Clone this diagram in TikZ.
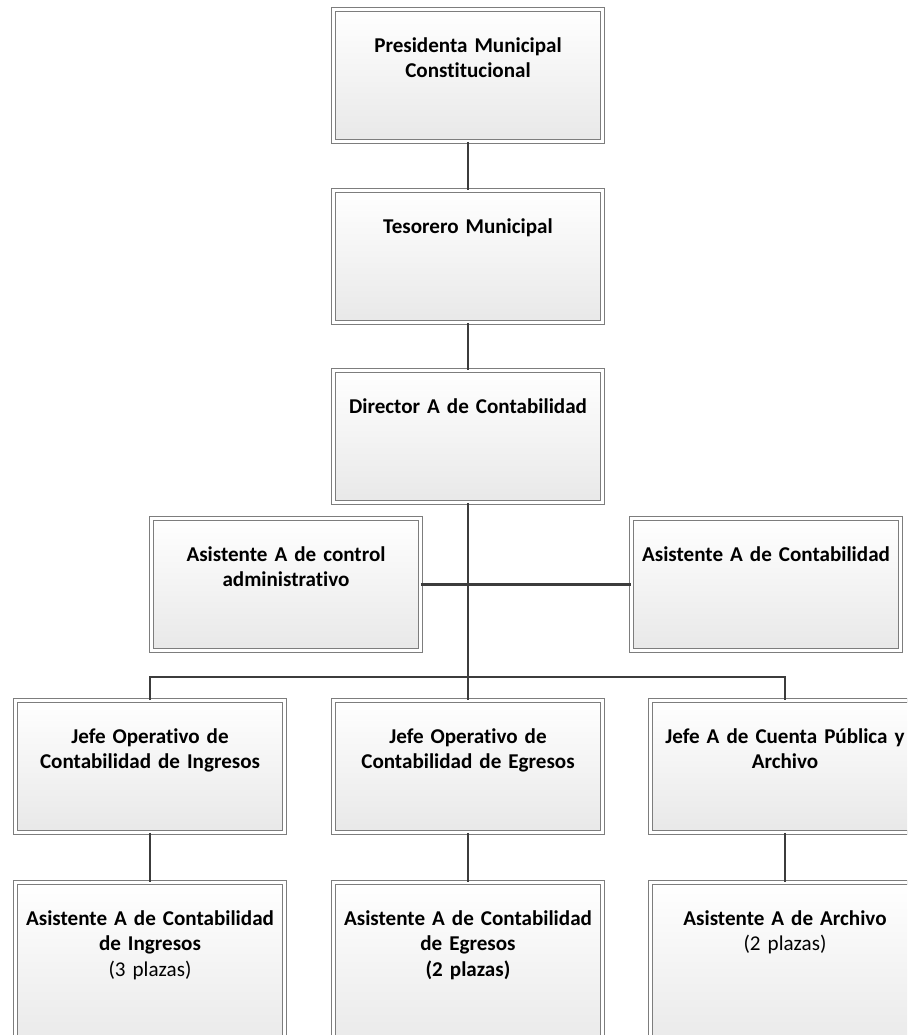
\documentclass[tikz,border=0pt]{standalone}
\usepackage{fontspec}
\setmainfont[Ligatures=NoCommon]{Carlito}
\definecolor{boxgray}{RGB}{125, 125, 125}
\definecolor{linegray}{RGB}{60, 60, 60}
\definecolor{fillgray}{RGB}{232, 232, 232}
\usepackage{tikz}
\usetikzlibrary{positioning, calc}
\tikzset{
    orgbox/.style={rectangle, draw=boxgray, line width=0.5pt, double=white, double distance=1.6pt,
                   top color=white, bottom color=fillgray, anchor=north,
                   minimum width=5.38cm, text width=5.3cm, inner sep=0pt, align=center,
                   text height=0.86cm, text depth=1.78cm, font=\fontsize{12}{14.4}\selectfont\bfseries},
    tallbox/.style={orgbox, text depth=2.6cm},
    conn/.style={linegray, line width=1.4pt},
}

\begin{document}
\begin{tikzpicture}[x=0.02cm, y=-0.02cm]
            \useasboundingbox (0,0) rectangle (907,1035);
            \clip (0,0) rectangle (907,1035);
            \node[orgbox] (pres) at (468, 9) {Presidenta Municipal\\Constitucional};
            \node[orgbox] (teso) at (468, 190) {Tesorero Municipal};
            \node[orgbox] (dir) at (468, 370) {Director A de Contabilidad};
            \node[orgbox] (asisCtrl) at (286, 518) {Asistente A de control\\administrativo};
            \node[orgbox] (asisCont) at (766, 518) {Asistente A de Contabilidad};
            \node[orgbox] (jefeI) at (150, 700) {Jefe Operativo de\\Contabilidad de Ingresos};
            \node[orgbox] (jefeE) at (468, 700) {Jefe Operativo de\\Contabilidad de Egresos};
            \node[orgbox] (jefeC) at (785, 700) {Jefe A de Cuenta P\'ublica y\\Archivo};
            \node[tallbox] (asisI) at (150, 882) {Asistente A de Contabilidad\\de Ingresos\\{\mdseries (3 plazas)}};
            \node[tallbox] (asisE) at (468, 882) {Asistente A de Contabilidad\\de Egresos\\(2 plazas)};
            \node[tallbox] (asisA) at (785, 882) {Asistente A de Archivo\\{\mdseries (2 plazas)}};
            \coordinate (bus) at (468, 677);
            
            \draw[conn] (pres) -- (teso);
            \draw[conn] (teso) -- (dir);
            \draw[conn] (dir) -- (jefeE);
            \draw[conn] (asisCtrl.east) -- (asisCont.west);
            \draw[conn] (jefeI.north) |- (bus) -| (jefeC.north);
            \draw[conn] (jefeI) -- (asisI);
            \draw[conn] (jefeE) -- (asisE);
            \draw[conn] (jefeC) -- (asisA);
        \end{tikzpicture}
\end{document}
